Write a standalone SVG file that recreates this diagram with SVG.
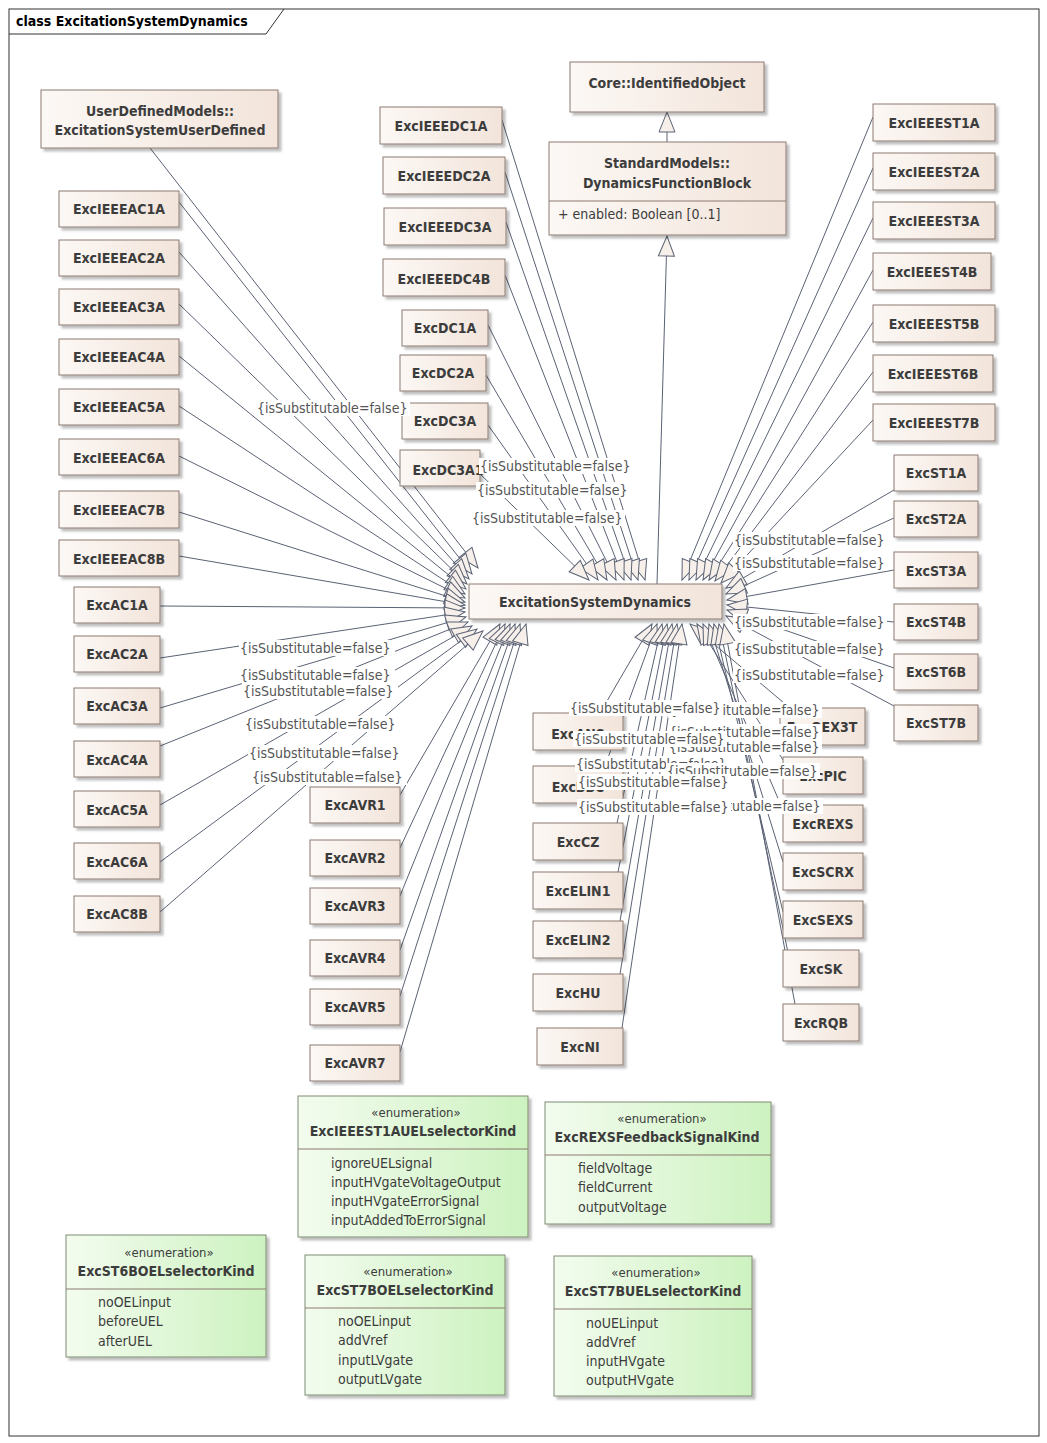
<svg xmlns="http://www.w3.org/2000/svg" width="1047" height="1443" viewBox="0 0 1047 1443">
<style>
.n{fill:url(#cg);stroke:#8c7b70;stroke-width:1;filter:url(#sh)}
.e{fill:url(#eg);stroke:#7d8c73;stroke-width:1;filter:url(#sh)}
.t{font-family:"DejaVu Sans Condensed","Liberation Sans",sans-serif;font-weight:bold;font-size:14px;fill:#3c3c3c;text-anchor:middle}
.a{font-family:"DejaVu Sans Condensed","Liberation Sans",sans-serif;font-size:14px;fill:#3c3c3c}
.s{font-family:"DejaVu Sans Condensed","Liberation Sans",sans-serif;font-size:13px;fill:#3c3c3c;text-anchor:middle}
.l{font-family:"DejaVu Sans Condensed","Liberation Sans",sans-serif;font-size:14px;fill:#555}
.lb{fill:#fff}
.c line{stroke:#5a6274;stroke-width:1;marker-end:url(#g)}
.d{stroke:#8c7b70;stroke-width:1}
</style>
<defs>
<linearGradient id="cg" x1="0" x2="1"><stop offset="0" stop-color="#fcf8f5"/><stop offset="1" stop-color="#f2e4da"/></linearGradient>
<linearGradient id="eg" x1="0" x2="1"><stop offset="0" stop-color="#f3fcef"/><stop offset="1" stop-color="#cdf2c0"/></linearGradient>
<filter id="sh" x="-10%" y="-10%" width="130%" height="130%"><feDropShadow dx="3" dy="3" stdDeviation="1.2" flood-color="#000" flood-opacity="0.25"/></filter>
<marker id="g" markerUnits="userSpaceOnUse" markerWidth="24" markerHeight="20" refX="21" refY="9" orient="auto"><path d="M1,1 L21,9 L1,17 Z" fill="#f6efea" stroke="#5a6274"/></marker>
</defs>
<rect width="1047" height="1443" fill="#fff"/>
<rect x="9" y="9" width="1030" height="1427" fill="none" stroke="#333"/>
<path d="M9,34 H266 L284,9" fill="none" stroke="#333"/>
<text x="16" y="26" style="font-family:'DejaVu Sans Condensed','Liberation Sans',sans-serif;font-weight:bold;font-size:14px;fill:#000">class ExcitationSystemDynamics</text>

<g class="c" id="connectors">
<line x1="667" y1="142" x2="667" y2="112"/>
<line x1="657" y1="584" x2="667" y2="236"/>
<line x1="150" y1="148" x2="478" y2="568"/>
<line x1="179" y1="202" x2="472" y2="574"/>
<line x1="179" y1="252" x2="469" y2="579"/>
<line x1="179" y1="304" x2="467" y2="584"/>
<line x1="179" y1="356" x2="466" y2="589"/>
<line x1="179" y1="406" x2="465" y2="594"/>
<line x1="179" y1="456" x2="465" y2="598"/>
<line x1="179" y1="512" x2="465" y2="602"/>
<line x1="179" y1="556" x2="465" y2="605"/>
<line x1="160" y1="606" x2="465" y2="608"/>
<line x1="160" y1="658" x2="465" y2="612"/>
<line x1="160" y1="708" x2="466" y2="617"/>
<line x1="160" y1="746" x2="468" y2="622"/>
<line x1="160" y1="805" x2="472" y2="626"/>
<line x1="160" y1="862" x2="477" y2="629"/>
<line x1="160" y1="912" x2="483" y2="631"/>
<line x1="400" y1="795" x2="500" y2="624"/>
<line x1="400" y1="848" x2="505" y2="624"/>
<line x1="400" y1="896" x2="510" y2="624"/>
<line x1="400" y1="950" x2="515" y2="624"/>
<line x1="400" y1="996" x2="520" y2="624"/>
<line x1="400" y1="1052" x2="526" y2="624"/>
<line x1="502" y1="120" x2="645" y2="580"/>
<line x1="505" y1="172" x2="638" y2="580"/>
<line x1="506" y1="222" x2="631" y2="580"/>
<line x1="505" y1="275" x2="624" y2="580"/>
<line x1="488" y1="325" x2="616" y2="580"/>
<line x1="486" y1="375" x2="607" y2="580"/>
<line x1="488" y1="425" x2="598" y2="580"/>
<line x1="476" y1="470" x2="589" y2="580"/>
<line x1="873" y1="117" x2="682" y2="580"/>
<line x1="873" y1="168" x2="689" y2="580"/>
<line x1="873" y1="218" x2="696" y2="580"/>
<line x1="873" y1="270" x2="703" y2="580"/>
<line x1="873" y1="322" x2="709" y2="580"/>
<line x1="873" y1="372" x2="715" y2="581"/>
<line x1="873" y1="420" x2="721" y2="583"/>
<line x1="894" y1="490" x2="726" y2="588"/>
<line x1="894" y1="518" x2="726" y2="594"/>
<line x1="894" y1="570" x2="727" y2="600"/>
<line x1="894" y1="622" x2="727" y2="605"/>
<line x1="894" y1="668" x2="727" y2="610"/>
<line x1="894" y1="706" x2="726" y2="616"/>
<line x1="600" y1="713" x2="652" y2="624"/>
<line x1="605" y1="766" x2="657" y2="624"/>
<line x1="617" y1="823" x2="662" y2="624"/>
<line x1="618" y1="872" x2="667" y2="624"/>
<line x1="620" y1="921" x2="672" y2="624"/>
<line x1="620" y1="974" x2="677" y2="624"/>
<line x1="622" y1="1028" x2="682" y2="624"/>
<line x1="790" y1="708" x2="690" y2="624"/>
<line x1="783" y1="760" x2="697" y2="624"/>
<line x1="783" y1="810" x2="703" y2="624"/>
<line x1="783" y1="862" x2="709" y2="624"/>
<line x1="783" y1="912" x2="714" y2="624"/>
<line x1="790" y1="962" x2="719" y2="624"/>
<line x1="795" y1="1004" x2="724" y2="624"/>
</g>

<g id="n-core"><rect class="n" x="570" y="62" width="194" height="50"/><text class="t" x="667" y="88">Core::IdentifiedObject</text></g>
<g id="n-dfb"><rect class="n" x="549" y="142" width="237" height="93"/><line class="d" x1="549" y1="201" x2="786" y2="201"/><text class="t" x="667" y="168">StandardModels::</text><text class="t" x="667" y="188">DynamicsFunctionBlock</text><text class="a" x="558" y="219">+    enabled: Boolean [0..1]</text></g>
<g id="n-ud"><rect class="n" x="41" y="90" width="237" height="58"/><text class="t" x="160" y="116">UserDefinedModels::</text><text class="t" x="160" y="135">ExcitationSystemUserDefined</text></g>
<g id="n-esd"><rect class="n" x="469" y="584" width="253" height="35"/><text class="t" x="595" y="607">ExcitationSystemDynamics</text></g>

<g id="n-ieeeac1a"><rect class="n" x="59" y="191" width="120" height="36"/><text class="t" x="119" y="214">ExcIEEEAC1A</text></g>
<g id="n-ieeeac2a"><rect class="n" x="59" y="240" width="120" height="36"/><text class="t" x="119" y="263">ExcIEEEAC2A</text></g>
<g id="n-ieeeac3a"><rect class="n" x="59" y="289" width="120" height="36"/><text class="t" x="119" y="312">ExcIEEEAC3A</text></g>
<g id="n-ieeeac4a"><rect class="n" x="59" y="339" width="120" height="36"/><text class="t" x="119" y="362">ExcIEEEAC4A</text></g>
<g id="n-ieeeac5a"><rect class="n" x="59" y="389" width="120" height="36"/><text class="t" x="119" y="412">ExcIEEEAC5A</text></g>
<g id="n-ieeeac6a"><rect class="n" x="59" y="439" width="120" height="36"/><text class="t" x="119" y="463">ExcIEEEAC6A</text></g>
<g id="n-ieeeac7b"><rect class="n" x="59" y="491" width="120" height="37"/><text class="t" x="119" y="515">ExcIEEEAC7B</text></g>
<g id="n-ieeeac8b"><rect class="n" x="59" y="540" width="120" height="36"/><text class="t" x="119" y="564">ExcIEEEAC8B</text></g>

<g id="n-ac1a"><rect class="n" x="74" y="587" width="86" height="36"/><text class="t" x="117" y="610">ExcAC1A</text></g>
<g id="n-ac2a"><rect class="n" x="74" y="636" width="86" height="36"/><text class="t" x="117" y="659">ExcAC2A</text></g>
<g id="n-ac3a"><rect class="n" x="74" y="688" width="86" height="36"/><text class="t" x="117" y="711">ExcAC3A</text></g>
<g id="n-ac4a"><rect class="n" x="74" y="741" width="86" height="36"/><text class="t" x="117" y="765">ExcAC4A</text></g>
<g id="n-ac5a"><rect class="n" x="74" y="791" width="86" height="36"/><text class="t" x="117" y="815">ExcAC5A</text></g>
<g id="n-ac6a"><rect class="n" x="74" y="843" width="86" height="36"/><text class="t" x="117" y="867">ExcAC6A</text></g>
<g id="n-ac8b"><rect class="n" x="74" y="896" width="86" height="36"/><text class="t" x="117" y="919">ExcAC8B</text></g>

<g id="n-ieeedc1a"><rect class="n" x="380" y="107" width="122" height="37"/><text class="t" x="441" y="131">ExcIEEEDC1A</text></g>
<g id="n-ieeedc2a"><rect class="n" x="383" y="157" width="122" height="37"/><text class="t" x="444" y="181">ExcIEEEDC2A</text></g>
<g id="n-ieeedc3a"><rect class="n" x="384" y="208" width="122" height="37"/><text class="t" x="445" y="232">ExcIEEEDC3A</text></g>
<g id="n-ieeedc4b"><rect class="n" x="383" y="259" width="122" height="37"/><text class="t" x="444" y="284">ExcIEEEDC4B</text></g>
<g id="n-dc1a"><rect class="n" x="402" y="310" width="86" height="36"/><text class="t" x="445" y="333">ExcDC1A</text></g>
<g id="n-dc2a"><rect class="n" x="400" y="355" width="86" height="36"/><text class="t" x="443" y="378">ExcDC2A</text></g>
<g id="n-dc3a"><rect class="n" x="402" y="403" width="86" height="36"/><text class="t" x="445" y="426">ExcDC3A</text></g>
<g id="n-dc3a1"><rect class="n" x="400" y="450" width="80" height="36"/><text class="t" x="448" y="475">ExcDC3A1</text></g>

<g id="n-ieeest1a"><rect class="n" x="873" y="104" width="122" height="37"/><text class="t" x="934" y="128">ExcIEEEST1A</text></g>
<g id="n-ieeest2a"><rect class="n" x="873" y="153" width="122" height="37"/><text class="t" x="934" y="177">ExcIEEEST2A</text></g>
<g id="n-ieeest3a"><rect class="n" x="873" y="202" width="122" height="37"/><text class="t" x="934" y="226">ExcIEEEST3A</text></g>
<g id="n-ieeest4b"><rect class="n" x="873" y="253" width="118" height="37"/><text class="t" x="932" y="277">ExcIEEEST4B</text></g>
<g id="n-ieeest5b"><rect class="n" x="873" y="305" width="122" height="37"/><text class="t" x="934" y="329">ExcIEEEST5B</text></g>
<g id="n-ieeest6b"><rect class="n" x="873" y="355" width="120" height="37"/><text class="t" x="933" y="379">ExcIEEEST6B</text></g>
<g id="n-ieeest7b"><rect class="n" x="873" y="404" width="122" height="37"/><text class="t" x="934" y="428">ExcIEEEST7B</text></g>

<g id="n-st1a"><rect class="n" x="894" y="455" width="84" height="36"/><text class="t" x="936" y="478">ExcST1A</text></g>
<g id="n-st2a"><rect class="n" x="894" y="501" width="84" height="36"/><text class="t" x="936" y="524">ExcST2A</text></g>
<g id="n-st3a"><rect class="n" x="894" y="552" width="84" height="36"/><text class="t" x="936" y="576">ExcST3A</text></g>
<g id="n-st4b"><rect class="n" x="894" y="604" width="84" height="36"/><text class="t" x="936" y="627">ExcST4B</text></g>
<g id="n-st6b"><rect class="n" x="894" y="654" width="84" height="36"/><text class="t" x="936" y="677">ExcST6B</text></g>
<g id="n-st7b"><rect class="n" x="894" y="705" width="84" height="36"/><text class="t" x="936" y="728">ExcST7B</text></g>

<g id="n-avr1"><rect class="n" x="310" y="787" width="90" height="36"/><text class="t" x="355" y="810">ExcAVR1</text></g>
<g id="n-avr2"><rect class="n" x="310" y="840" width="90" height="36"/><text class="t" x="355" y="863">ExcAVR2</text></g>
<g id="n-avr3"><rect class="n" x="310" y="888" width="90" height="36"/><text class="t" x="355" y="911">ExcAVR3</text></g>
<g id="n-avr4"><rect class="n" x="310" y="940" width="90" height="36"/><text class="t" x="355" y="963">ExcAVR4</text></g>
<g id="n-avr5"><rect class="n" x="310" y="989" width="90" height="36"/><text class="t" x="355" y="1012">ExcAVR5</text></g>
<g id="n-avr7"><rect class="n" x="310" y="1045" width="90" height="36"/><text class="t" x="355" y="1068">ExcAVR7</text></g>

<g id="n-ans"><rect class="n" x="533" y="713" width="90" height="37"/><text class="t" x="578" y="739">ExcANS</text></g>
<g id="n-bbc"><rect class="n" x="533" y="766" width="90" height="37"/><text class="t" x="578" y="792">ExcBBC</text></g>
<g id="n-cz"><rect class="n" x="533" y="823" width="90" height="37"/><text class="t" x="578" y="847">ExcCZ</text></g>
<g id="n-elin1"><rect class="n" x="533" y="872" width="90" height="37"/><text class="t" x="578" y="896">ExcELIN1</text></g>
<g id="n-elin2"><rect class="n" x="533" y="921" width="90" height="37"/><text class="t" x="578" y="945">ExcELIN2</text></g>
<g id="n-hu"><rect class="n" x="533" y="974" width="90" height="37"/><text class="t" x="578" y="998">ExcHU</text></g>
<g id="n-ni"><rect class="n" x="537" y="1028" width="86" height="37"/><text class="t" x="580" y="1052">ExcNI</text></g>

<g id="n-oex3t"><rect class="n" x="780" y="708" width="85" height="37"/><text class="t" x="822" y="732">ExcOEX3T</text></g>
<g id="n-pic"><rect class="n" x="783" y="757" width="80" height="37"/><text class="t" x="823" y="781">ExcPIC</text></g>
<g id="n-rexs"><rect class="n" x="783" y="805" width="80" height="37"/><text class="t" x="823" y="829">ExcREXS</text></g>
<g id="n-scrx"><rect class="n" x="783" y="853" width="80" height="37"/><text class="t" x="823" y="877">ExcSCRX</text></g>
<g id="n-sexs"><rect class="n" x="783" y="901" width="80" height="37"/><text class="t" x="823" y="925">ExcSEXS</text></g>
<g id="n-sk"><rect class="n" x="783" y="950" width="76" height="37"/><text class="t" x="821" y="974">ExcSK</text></g>
<g id="n-rqb"><rect class="n" x="783" y="1004" width="76" height="37"/><text class="t" x="821" y="1028">ExcRQB</text></g>

<g id="labels">
<g><rect class="lb" x="256" y="400" width="154" height="16"/><text class="l" x="257" y="413">{isSubstitutable=false}</text></g>
<g><rect class="lb" x="479" y="458" width="154" height="16"/><text class="l" x="480" y="471">{isSubstitutable=false}</text></g>
<g><rect class="lb" x="476" y="482" width="154" height="16"/><text class="l" x="477" y="495">{isSubstitutable=false}</text></g>
<g><rect class="lb" x="471" y="510" width="154" height="16"/><text class="l" x="472" y="523">{isSubstitutable=false}</text></g>
<g><rect class="lb" x="733" y="532" width="154" height="16"/><text class="l" x="734" y="545">{isSubstitutable=false}</text></g>
<g><rect class="lb" x="733" y="555" width="154" height="16"/><text class="l" x="734" y="568">{isSubstitutable=false}</text></g>
<g><rect class="lb" x="733" y="614" width="154" height="16"/><text class="l" x="734" y="627">{isSubstitutable=false}</text></g>
<g><rect class="lb" x="733" y="641" width="154" height="16"/><text class="l" x="734" y="654">{isSubstitutable=false}</text></g>
<g><rect class="lb" x="733" y="667" width="154" height="16"/><text class="l" x="734" y="680">{isSubstitutable=false}</text></g>
<g><rect class="lb" x="239" y="640" width="156" height="16"/><text class="l" x="240" y="653">{isSubstitutable=false}</text></g>
<g><rect class="lb" x="239" y="667" width="156" height="16"/><text class="l" x="240" y="680">{isSubstitutable=false}</text></g>
<g><rect class="lb" x="242" y="683" width="156" height="16"/><text class="l" x="243" y="696">{isSubstitutable=false}</text></g>
<g><rect class="lb" x="244" y="716" width="156" height="16"/><text class="l" x="245" y="729">{isSubstitutable=false}</text></g>
<g><rect class="lb" x="248" y="745" width="156" height="16"/><text class="l" x="249" y="758">{isSubstitutable=false}</text></g>
<g><rect class="lb" x="251" y="769" width="156" height="16"/><text class="l" x="252" y="782">{isSubstitutable=false}</text></g>
<g><rect class="lb" x="668" y="702" width="154" height="16"/><text class="l" x="669" y="715">{isSubstitutable=false}</text></g>
<g><rect class="lb" x="668" y="724" width="154" height="16"/><text class="l" x="669" y="737">{isSubstitutable=false}</text></g>
<g><rect class="lb" x="668" y="739" width="154" height="16"/><text class="l" x="669" y="752">{isSubstitutable=false}</text></g>
<g><rect class="lb" x="669" y="798" width="154" height="16"/><text class="l" x="670" y="811">{isSubstitutable=false}</text></g>
<g><rect class="lb" x="569" y="700" width="154" height="16"/><text class="l" x="570" y="713">{isSubstitutable=false}</text></g>
<g><rect class="lb" x="573" y="731" width="154" height="16"/><text class="l" x="574" y="744">{isSubstitutable=false}</text></g>
<g><rect class="lb" x="575" y="756" width="154" height="16"/><text class="l" x="576" y="769">{isSubstitutable=false}</text></g>
<g><rect class="lb" x="666" y="763" width="154" height="16"/><text class="l" x="667" y="776">{isSubstitutable=false}</text></g>
<g><rect class="lb" x="577" y="774" width="154" height="16"/><text class="l" x="578" y="787">{isSubstitutable=false}</text></g>
<g><rect class="lb" x="577" y="799" width="154" height="16"/><text class="l" x="578" y="812">{isSubstitutable=false}</text></g>
</g>

<g id="e-est1a"><rect class="e" x="298" y="1096" width="230" height="141"/><line class="d" x1="298" y1="1149" x2="528" y2="1149"/><text class="s" x="416" y="1117">«enumeration»</text><text class="t" x="413" y="1136">ExcIEEEST1AUELselectorKind</text><text class="a" x="331" y="1168">ignoreUELsignal</text><text class="a" x="331" y="1187">inputHVgateVoltageOutput</text><text class="a" x="331" y="1206">inputHVgateErrorSignal</text><text class="a" x="331" y="1225">inputAddedToErrorSignal</text></g>
<g id="e-rexs"><rect class="e" x="545" y="1102" width="226" height="122"/><line class="d" x1="545" y1="1155" x2="771" y2="1155"/><text class="s" x="662" y="1123">«enumeration»</text><text class="t" x="657" y="1142">ExcREXSFeedbackSignalKind</text><text class="a" x="578" y="1173">fieldVoltage</text><text class="a" x="578" y="1192">fieldCurrent</text><text class="a" x="578" y="1212">outputVoltage</text></g>
<g id="e-st6b"><rect class="e" x="66" y="1235" width="200" height="122"/><line class="d" x1="66" y1="1289" x2="266" y2="1289"/><text class="s" x="169" y="1257">«enumeration»</text><text class="t" x="166" y="1276">ExcST6BOELselectorKind</text><text class="a" x="98" y="1307">noOELinput</text><text class="a" x="98" y="1326">beforeUEL</text><text class="a" x="98" y="1346">afterUEL</text></g>
<g id="e-st7boel"><rect class="e" x="305" y="1255" width="200" height="140"/><line class="d" x1="305" y1="1308" x2="505" y2="1308"/><text class="s" x="408" y="1276">«enumeration»</text><text class="t" x="405" y="1295">ExcST7BOELselectorKind</text><text class="a" x="338" y="1326">noOELinput</text><text class="a" x="338" y="1345">addVref</text><text class="a" x="338" y="1365">inputLVgate</text><text class="a" x="338" y="1384">outputLVgate</text></g>
<g id="e-st7buel"><rect class="e" x="554" y="1256" width="198" height="140"/><line class="d" x1="554" y1="1309" x2="752" y2="1309"/><text class="s" x="656" y="1277">«enumeration»</text><text class="t" x="653" y="1296">ExcST7BUELselectorKind</text><text class="a" x="586" y="1328">noUELinput</text><text class="a" x="586" y="1347">addVref</text><text class="a" x="586" y="1366">inputHVgate</text><text class="a" x="586" y="1385">outputHVgate</text></g>
</svg>
